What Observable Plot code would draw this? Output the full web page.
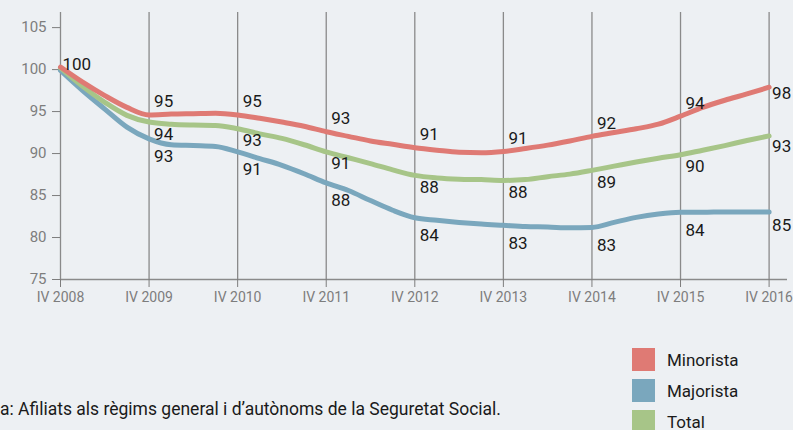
<!DOCTYPE html>
<html>
<head>
<meta charset="utf-8">
<script src="https://cdn.jsdelivr.net/npm/d3@7"></script>
<script src="https://cdn.jsdelivr.net/npm/@observablehq/plot@0.6"></script>
<style>
  html, body { margin: 0; padding: 0; background: #edf0f3; }
  #wrap { position: relative; width: 793px; height: 430px; overflow: hidden; font-family: Roboto, "Liberation Sans", sans-serif; }
  #caption { position: absolute; left: 0; top: 399px; font-size: 17.5px; color: #1a1a1a; white-space: nowrap; }
  #legend { position: absolute; left: 632px; top: 348px; }
  .item { display: flex; align-items: center; height: 23px; margin-bottom: 8px; font-size: 17px; color: #1a1a1a; }
  .sw { width: 23px; height: 23px; margin-right: 12px; }
</style>
</head>
<body>
<div id="wrap">
  <div id="chart"></div>
  <div id="caption"></div>
  <div id="legend"></div>
</div>
<script>
// Quarter index 0 = IV 2008 ... 32 = IV 2016
const xTickLabels = ["IV 2008", "IV 2009", "IV 2010", "IV 2011", "IV 2012", "IV 2013", "IV 2014", "IV 2015", "IV 2016"];
const yTicks = [75, 80, 85, 90, 95, 100, 105];

const seriesNames = ["Minorista", "Majorista", "Total"];
const seriesColors = ["#df7a74", "#7aa7bd", "#a7c588"];

const minorista = [100.3, 98.5, 96.9, 95.5, 94.6, 94.7, 94.75, 94.8, 94.6, 94.2, 93.75, 93.25, 92.6, 92.05, 91.5, 91.1, 90.7, 90.4, 90.15, 90.1, 90.25, 90.6, 91.0, 91.5, 92.05, 92.5, 92.95, 93.5, 94.45, 95.5, 96.35, 97.1, 97.9];
const majorista = [99.9, 97.5, 95.3, 93.15, 91.75, 91.05, 90.95, 90.85, 90.2, 89.4, 88.6, 87.6, 86.5, 85.6, 84.4, 83.25, 82.35, 82.05, 81.8, 81.6, 81.45, 81.3, 81.25, 81.15, 81.2, 81.8, 82.4, 82.8, 83.0, 83.0, 83.05, 83.05, 83.05];
const total = [100.2, 98.0, 96.1, 94.55, 93.75, 93.5, 93.4, 93.35, 92.95, 92.35, 91.8, 91.05, 90.2, 89.5, 88.8, 88.05, 87.4, 87.1, 86.95, 86.9, 86.8, 86.9, 87.25, 87.55, 88.0, 88.5, 89.0, 89.45, 89.85, 90.4, 90.95, 91.55, 92.1];

// Annual value labels (IV 2008 ... IV 2016)
const minoristaLabels = [100, 95, 95, 93, 91, 91, 92, 94, 98];
const majoristaLabels = [null, 93, 91, 88, 84, 83, 83, 84, 85];
const totalLabels = [null, 94, 93, 91, 88, 88, 89, 90, 93];

const captionText = "a: Afiliats als règims general i d\u2019autònoms de la Seguretat Social.";

const seriesValues = [minorista, majorista, total];
const seriesLabels = [minoristaLabels, majoristaLabels, totalLabels];
const labelDy = [-13, 18, 12];      // label offset per series (style)
const lastDy = [6, 14, 11];

const yearQ = xTickLabels.map((_, i) => i * 4);

function lineRows(k) {
  return seriesValues[k].map((v, q) => ({q, v, s: seriesNames[k]}));
}
function labelRows(k) {
  return seriesLabels[k].map((lab, i) => ({q: i * 4, v: seriesValues[k][i * 4], lab, i})).filter(d => d.lab != null);
}

const gridColor = "#8a8a8a";
const marks = [
  Plot.ruleX(yearQ, {x: d => d, y1: 75, y2: 106.8, stroke: gridColor, strokeWidth: 1.3}),
  Plot.ruleY([75], {stroke: gridColor, strokeWidth: 1.3}),
  Plot.axisY({ticks: yTicks, tickSize: 8, tickPadding: 6, fontSize: 15, color: "#7d7d7d", label: null}),
  Plot.axisX({ticks: yearQ, tickFormat: d => xTickLabels[d / 4], tickSize: 8, tickPadding: 5, fontSize: 14, color: "#7d7d7d", label: null})
];
// draw order: Majorista, Total, Minorista
[1, 2, 0].forEach(k => {
  marks.push(Plot.line(lineRows(k), {x: "q", y: "v", stroke: seriesColors[k], strokeWidth: 5, curve: "monotone-x"}));
});
[0, 1, 2].forEach(k => {
  const rows = labelRows(k);
  const common = {x: "q", y: "v", text: d => String(d.lab), textAnchor: "start", fontSize: 17, fill: "#1a1a1a"};
  marks.push(Plot.text(rows.filter(d => d.i > 0 && d.i < 8), {...common, dx: 5, dy: labelDy[k]}));
  marks.push(Plot.text(rows.filter(d => d.i === 8), {...common, dx: 3, dy: lastDy[k]}));
  marks.push(Plot.text(rows.filter(d => d.i === 0), {...common, dx: 2, dy: -3}));
});

const chart = Plot.plot({
  width: 793,
  height: 320,
  marginLeft: 60,
  marginRight: 6,
  marginTop: 12,
  marginBottom: 41,
  x: {domain: [0, 32], range: [60, 768.6]},
  y: {domain: [75, 106.8]},
  style: {background: "transparent", fontFamily: "Roboto, 'Liberation Sans', sans-serif", overflow: "visible"},
  marks
});
document.getElementById("chart").appendChild(chart);

document.getElementById("caption").textContent = captionText;
const legend = document.getElementById("legend");
seriesNames.forEach((name, k) => {
  const item = document.createElement("div");
  item.className = "item";
  const sw = document.createElement("div");
  sw.className = "sw";
  sw.style.background = seriesColors[k];
  const t = document.createElement("span");
  t.textContent = name;
  item.appendChild(sw);
  item.appendChild(t);
  legend.appendChild(item);
});
</script>
</body>
</html>
